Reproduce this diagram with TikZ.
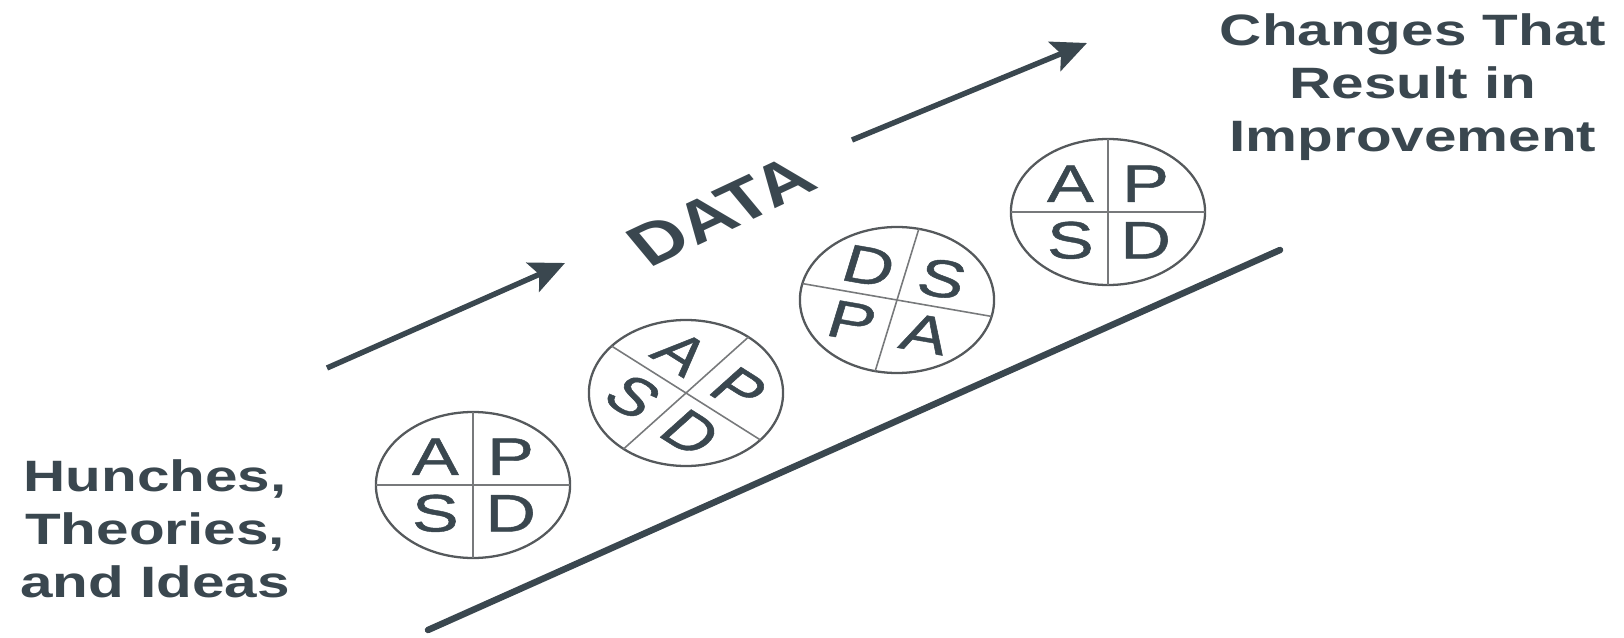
\documentclass[tikz,border=0pt]{standalone}
\usepackage{fontspec}
\setmainfont{Liberation Sans}
\newfontfamily\letterfont[FakeBold=0.8]{Liberation Sans}
\usetikzlibrary{arrows.meta}
\definecolor{ink}{HTML}{3A474F}
\definecolor{ringc}{HTML}{55595C}
\definecolor{divc}{HTML}{77797B}
\newcommand\pdsacycle[5]{%
  \begin{scope}[shift={(#2,#3)}, xscale=1.33]
    \coordinate (#1) at (0,0);
    \draw[ringline] (0,0) circle[radius=73];
    \draw[divline] ({#4}:73) -- ({#4+180}:73);
    \draw[divline] ({#4+90}:73) -- ({#4+270}:73);
    \node[letter, rotate=#5] (#1A) at ({#4+135}:40) {A};
    \node[letter, rotate=#5] (#1P) at ({#4+45}:40) {P};
    \node[letter, rotate=#5] (#1S) at ({#4+225}:40) {S};
    \node[letter, rotate=#5] (#1D) at ({#4+315}:40) {D};
  \end{scope}}
\tikzset{
  ringline/.style={draw=ringc, line width=1.3pt},
  divline/.style={draw=divc, line width=0.9pt},
  letter/.style={transform shape, text=ink, inner sep=0pt, font=\letterfont\fontsize{30}{30}\selectfont},
  label/.style={text=ink, align=center, inner sep=0pt, font=\bfseries\fontsize{25}{30}\selectfont},
  flow/.style={draw=ink, line width=3.1pt, -{Stealth[length=20pt, width=18pt, inset=4pt]}},
  base/.style={draw=ink, line width=3.7pt, line cap=round}
}
\begin{document}
\begin{tikzpicture}[x=0.02cm, y=0.02cm]
\useasboundingbox (0,0) rectangle (1624,637);
\node[label, xscale=1.33] (hunch) at (155,108) {Hunches,\\Theories,\\and Ideas};
\node[label, xscale=1.33] (change) at (1413,550) {Changes That\\Result in\\Improvement};
\node[label, cm={1.128,0.530,-0.705,0.848,(0,0)}, font=\bfseries\fontsize{33}{34}\selectfont] (data) at (721,426) {DATA};
\coordinate (a1s) at (327,269);
\coordinate (a1e) at (565,374);
\coordinate (a2s) at (852,497);
\coordinate (a2e) at (1087,594);
\coordinate (b1) at (428,7);
\coordinate (b2) at (1280,387);
\draw[flow] (a1s) -- (a1e);
\draw[flow] (a2s) -- (a2e);
\draw[base] (b1) -- (b2);
\pdsacycle{c1}{473}{152}{0}{0}
\pdsacycle{c2}{686}{244}{-40}{-40}
\pdsacycle{c3}{897}{337}{167}{-13}
\pdsacycle{c4}{1108}{425}{0}{0}
\end{tikzpicture}
\end{document}
